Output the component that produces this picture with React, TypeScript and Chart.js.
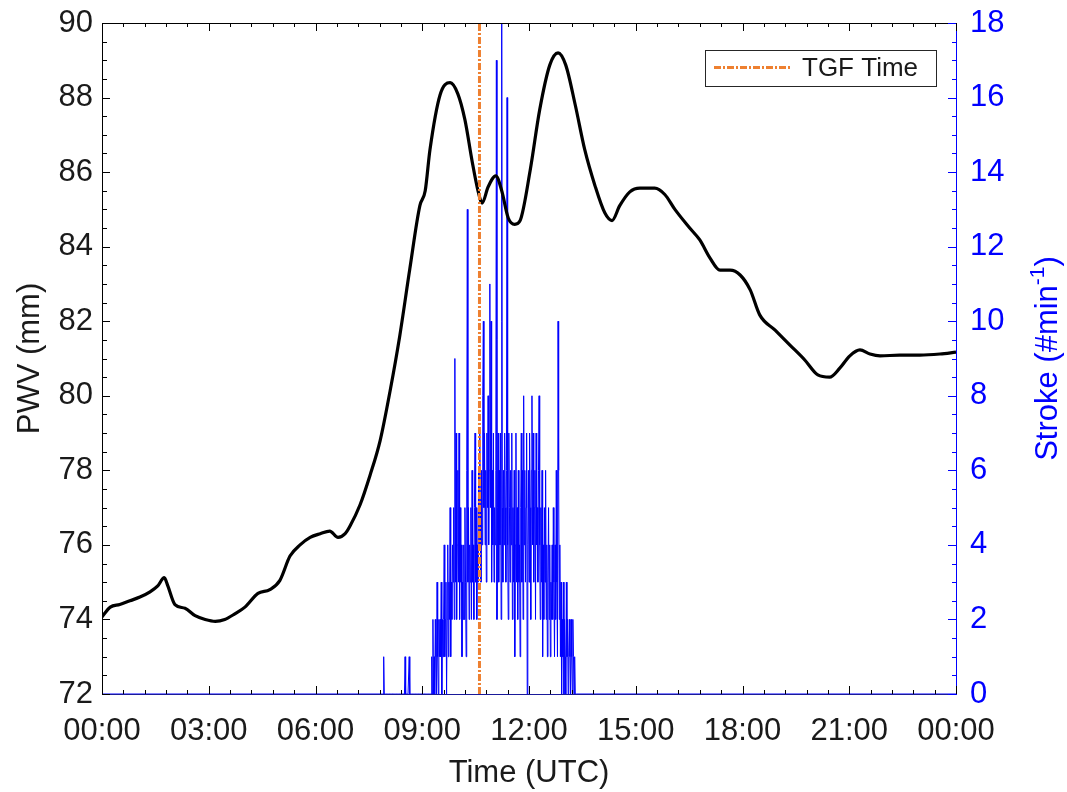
import { useEffect, useRef } from 'react';
import { Chart, registerables } from 'chart.js';
Chart.register(...registerables);

// PWV time series (minutes after 00:00 UTC) and values (mm)
const pwvMinutes = [0,14,30,47,64,81,94,105,111,123,140,157,174,191,207,224,241,263,283,300,317,334,351,368,384,398,410,418,435,452,469,486,502,519,536,545,553,570,587,600,612,624,634,641,651,664,674,685,696,705,722,738,755,769,782,798,814,831,848,860,873,890,907,932,949,966,991,1008,1025,1042,1059,1076,1093,1109,1135,1160,1185,1207,1227,1244,1261,1278,1295,1312,1345,1379,1413,1440];
const pwvValues = [74.07,74.33,74.4,74.5,74.6,74.74,74.9,75.12,74.9,74.4,74.3,74.1,74.0,73.95,74.0,74.15,74.33,74.7,74.8,75.05,75.7,76.0,76.2,76.3,76.37,76.2,76.3,76.5,77.07,77.87,78.8,80.15,81.6,83.4,85.1,85.5,86.6,88.07,88.4,88.1,87.4,86.3,85.5,85.17,85.6,85.9,85.5,84.77,84.6,84.7,86.05,87.67,88.87,89.2,88.87,87.8,86.6,85.65,84.9,84.7,85.1,85.47,85.57,85.57,85.4,85.0,84.5,84.18,83.7,83.37,83.37,83.24,82.84,82.17,81.76,81.36,80.96,80.56,80.5,80.74,81.07,81.23,81.12,81.07,81.09,81.09,81.12,81.17];

// Lightning strokes per minute, starting at minute 470 (07:50 UTC); zero elsewhere
const strokeStartMinute = 470;
const strokeCounts = [
  0,0,0,0,0,1,0,0,0,0,
  0,0,0,0,0,0,0,0,0,0,
  0,0,0,0,0,0,0,0,0,0,
  0,0,0,0,0,0,0,0,0,0,
  0,1,0,0,0,0,0,0,1,0,
  0,0,0,0,0,0,0,0,0,0,
  0,0,0,0,0,0,0,0,0,0,
  0,0,0,0,0,0,0,0,0,0,
  0,0,0,0,0,0,1,0,2,0,
  1,0,2,1,0,3,1,0,2,1,
  2,1,3,0,2,1,2,4,1,2,
  3,0,2,4,1,3,2,5,1,3,
  2,4,3,5,2,9,3,7,2,4,
  6,3,7,2,5,3,4,1,3,2,
  4,2,5,3,1,6,13,3,5,2,
  4,3,5,2,6,3,4,2,5,7,
  3,5,2,4,3,6,4,7,5,3,
  6,4,8,10,5,7,4,6,3,7,
  5,8,4,6,11,5,10,3,6,4,
  7,3,5,4,6,17,2,5,7,3,
  6,4,7,2,18,5,3,6,4,7,
  5,3,6,16,4,2,7,5,3,6,
  4,7,2,5,3,6,1,4,7,3,
  5,2,6,3,4,1,5,7,3,6,
  2,8,4,6,3,5,7,0,4,6,
  3,7,5,2,6,8,4,7,3,5,
  6,2,7,4,5,3,6,8,4,2,
  5,3,6,1,4,2,5,3,6,2,
  4,1,3,5,2,4,1,3,2,4,
  2,5,3,1,4,2,6,3,1,10,
  6,2,4,1,3,0,2,1,3,0,
  2,1,0,3,1,2,0,1,2,1,
  0,2,1,0,2,1,0,1,0,0,
  0
];
const dayStartMinute = 0;
const dayEndMinute = 1440;

const tgfMinute = 636.5;
const tgfLabel = 'TGF Time';

const xTickMinutes = [0, 180, 360, 540, 720, 900, 1080, 1260, 1440];
const xMinorStep = 36;
const pwvTicks = [72, 74, 76, 78, 80, 82, 84, 86, 88, 90];
const strokeTicks = [0, 2, 4, 6, 8, 10, 12, 14, 16, 18];

const xTitle = 'Time (UTC)';
const yTitle = 'PWV (mm)';
const y2TitleMain = 'Stroke (#min';
const y2TitleSup = '-1';
const y2TitleEnd = ')';

const FONT = '"Liberation Sans", Arial, Helvetica, sans-serif';
const BLUE = '#0000ff';
const ORANGE = '#EE8030';
const DARK = '#1a1a1a';

function fmt(m: number) {
  const h = Math.floor(m / 60) % 24;
  const mm = Math.round(m % 60);
  return String(h).padStart(2, '0') + ':' + String(mm).padStart(2, '0');
}

const decorPlugin = {
  id: 'decor',
  afterDatasetsDraw(chart: any) {
    const { ctx, chartArea: a, scales } = chart;
    const x = scales.x, y = scales.y, y2 = scales.y1;
    ctx.save();
    // frame
    ctx.lineWidth = 1;
    ctx.strokeStyle = '#000';
    ctx.beginPath();
    ctx.moveTo(a.left + 0.5, a.bottom + 0.5);
    ctx.lineTo(a.left + 0.5, a.top + 0.5);
    ctx.lineTo(a.right + 0.5, a.top + 0.5);
    ctx.stroke();
    ctx.strokeStyle = '#1a1a99';
    ctx.beginPath();
    ctx.moveTo(a.left, a.bottom + 0.5);
    ctx.lineTo(a.right, a.bottom + 0.5);
    ctx.stroke();
    ctx.strokeStyle = BLUE;
    ctx.beginPath();
    ctx.moveTo(a.right + 0.5, a.top);
    ctx.lineTo(a.right + 0.5, a.bottom + 1);
    ctx.stroke();

    // x ticks (inward, bottom & top)
    ctx.strokeStyle = '#000';
    ctx.beginPath();
    for (let m = 0; m <= 1440; m += xMinorStep) {
      const px = Math.round(x.getPixelForValue(m)) + 0.5;
      ctx.moveTo(px, a.bottom); ctx.lineTo(px, a.bottom - 4);
      ctx.moveTo(px, a.top); ctx.lineTo(px, a.top + 4);
    }
    for (const m of xTickMinutes) {
      const px = Math.round(x.getPixelForValue(m)) + 0.5;
      ctx.moveTo(px, a.bottom); ctx.lineTo(px, a.bottom - 8);
      ctx.moveTo(px, a.top); ctx.lineTo(px, a.top + 8);
    }
    ctx.stroke();
    // left y ticks
    ctx.beginPath();
    for (let v = 72; v <= 90.001; v += 0.5) {
      const py = Math.round(y.getPixelForValue(v)) + 0.5;
      const len = Math.abs(v - Math.round(v / 2) * 2) < 1e-6 ? 8 : 5;
      ctx.moveTo(a.left, py); ctx.lineTo(a.left + len, py);
    }
    ctx.stroke();
    // right y ticks
    ctx.strokeStyle = BLUE;
    ctx.beginPath();
    for (let v = 0; v <= 18.001; v += 0.5) {
      const py = Math.round(y2.getPixelForValue(v)) + 0.5;
      const len = Math.abs(v - Math.round(v / 2) * 2) < 1e-6 ? 8 : 4;
      ctx.moveTo(a.right, py); ctx.lineTo(a.right - len, py);
    }
    ctx.stroke();

    // legend
    ctx.fillStyle = '#fff';
    ctx.fillRect(706, 51, 231, 36);
    ctx.strokeStyle = '#262626';
    ctx.lineWidth = 1;
    ctx.strokeRect(705.5, 50.5, 231, 36);
    ctx.strokeStyle = ORANGE;
    ctx.lineWidth = 3;
    ctx.setLineDash([7, 2, 2, 2]);
    ctx.beginPath();
    ctx.moveTo(714, 67.5);
    ctx.lineTo(792, 67.5);
    ctx.stroke();
    ctx.setLineDash([]);
    ctx.fillStyle = DARK;
    ctx.font = '26px ' + FONT;
    ctx.textAlign = 'left';
    ctx.textBaseline = 'alphabetic';
    ctx.fillText(tgfLabel, 802, 76);

    // titles
    ctx.font = '31px ' + FONT;
    ctx.textAlign = 'center';
    ctx.fillStyle = DARK;
    ctx.fillText(xTitle, (a.left + a.right) / 2, 782);
    ctx.save();
    ctx.translate(39, (a.top + a.bottom) / 2);
    ctx.rotate(-Math.PI / 2);
    ctx.fillText(yTitle, 0, 0);
    ctx.restore();

    ctx.save();
    ctx.translate(1057, (a.top + a.bottom) / 2);
    ctx.rotate(-Math.PI / 2);
    ctx.fillStyle = BLUE;
    ctx.textAlign = 'left';
    ctx.font = '31px ' + FONT;
    const w1 = ctx.measureText(y2TitleMain).width;
    const w3 = ctx.measureText(y2TitleEnd).width;
    ctx.font = '21px ' + FONT;
    const w2 = ctx.measureText(y2TitleSup).width;
    const total = w1 + w2 + w3;
    let sx = -total / 2;
    ctx.font = '31px ' + FONT;
    ctx.fillText(y2TitleMain, sx, 0);
    sx += w1;
    ctx.font = '21px ' + FONT;
    ctx.fillText(y2TitleSup, sx, -13);
    sx += w2;
    ctx.font = '31px ' + FONT;
    ctx.fillText(y2TitleEnd, sx, 0);
    ctx.restore();

    ctx.restore();
  },
};

export default function App() {
  const ref = useRef<HTMLCanvasElement>(null);
  useEffect(() => {
    if (!ref.current) return;
    const strokeData = [
      { x: dayStartMinute, y: 0 },
      ...strokeCounts.map((v, i) => ({ x: strokeStartMinute + i, y: v })),
      { x: dayEndMinute, y: 0 },
    ];
    const pwvData = pwvMinutes.map((m, i) => ({ x: m, y: pwvValues[i] }));
    const chart = new Chart(ref.current, {
      type: 'line',
      data: {
        datasets: [
          {
            label: tgfLabel,
            data: [{ x: tgfMinute, y: 72 }, { x: tgfMinute, y: 90 }],
            borderColor: ORANGE,
            borderWidth: 3,
            borderDash: [7, 2, 2, 2],
            pointRadius: 0,
            yAxisID: 'y',
            order: 0,
          },
          {
            label: 'PWV',
            data: pwvData,
            borderColor: '#000',
            borderWidth: 3.2,
            pointRadius: 0,
            cubicInterpolationMode: 'monotone',
            yAxisID: 'y',
            order: 1,
          },
          {
            label: 'Stroke',
            data: strokeData,
            borderColor: BLUE,
            borderWidth: 1,
            pointRadius: 0,
            tension: 0,
            yAxisID: 'y1',
            order: 2,
          },
        ],
      },
      options: {
        animation: false,
        responsive: true,
        maintainAspectRatio: false,
        layout: { padding: { top: 23, left: 0, right: 0, bottom: 0 } },
        plugins: { legend: { display: false }, tooltip: { enabled: false } },
        scales: {
          x: {
            type: 'linear',
            min: 0,
            max: 1440,
            grid: { display: false, drawTicks: false },
            border: { display: false },
            afterBuildTicks: (s: any) => { s.ticks = xTickMinutes.map((v) => ({ value: v })); },
            afterFit: (s: any) => { s.height = 98; s.paddingLeft = 0; s.paddingRight = 0; },
            ticks: {
              callback: (v: any) => fmt(Number(v)),
              font: { family: FONT, size: 31 },
              color: DARK,
              padding: 19,
              maxRotation: 0,
              autoSkip: false,
            },
          },
          y: {
            position: 'left',
            min: 72,
            max: 90,
            grid: { display: false, drawTicks: false },
            border: { display: false },
            afterBuildTicks: (s: any) => { s.ticks = pwvTicks.map((v) => ({ value: v })); },
            afterFit: (s: any) => { s.width = 102; s.paddingTop = 0; s.paddingBottom = 0; },
            ticks: { font: { family: FONT, size: 31 }, color: DARK, padding: 9 },
          },
          y1: {
            position: 'right',
            min: 0,
            max: 18,
            grid: { display: false, drawTicks: false },
            border: { display: false },
            afterBuildTicks: (s: any) => { s.ticks = strokeTicks.map((v) => ({ value: v })); },
            afterFit: (s: any) => { s.width = 111; s.paddingTop = 0; s.paddingBottom = 0; },
            ticks: { font: { family: FONT, size: 31 }, color: BLUE, padding: 14 },
          },
        },
      },
      plugins: [decorPlugin],
    } as any);
    return () => chart.destroy();
  }, []);
  return (
    <div style={{ position: 'fixed', left: 0, top: 0, width: 1067, height: 792, background: '#fff' }}>
      <canvas ref={ref} />
    </div>
  );
}
